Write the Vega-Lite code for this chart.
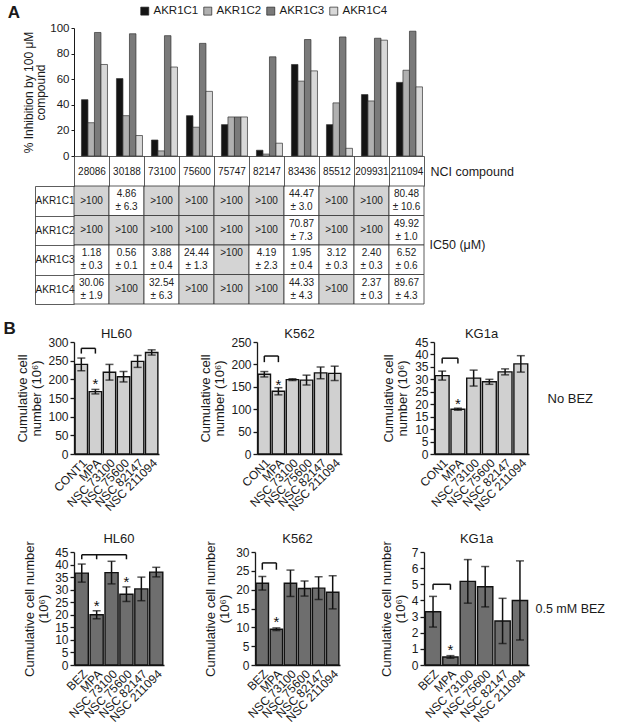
{
  "$schema": "https://vega.github.io/schema/vega-lite/v6.json",
  "background": "white",
  "padding": {"left": 3, "top": 4, "right": 2, "bottom": 2},
  "config": {
    "font": "Liberation Sans",
    "view": {"stroke": null},
    "axis": {"labelFont": "Liberation Sans", "titleFont": "Liberation Sans", "labelColor": "#1a1a1a", "titleColor": "#1a1a1a", "domainColor": "#1a1a1a", "tickColor": "#1a1a1a", "titleFontWeight": "normal", "grid": false},
    "title": {"font": "Liberation Sans", "color": "#1a1a1a", "fontWeight": "normal"},
    "legend": {"labelFont": "Liberation Sans"}
  },
  "datasets": {
    "inh": [
      {"compound": "28086", "enzyme": "AKR1C1", "value": 44}, {"compound": "28086", "enzyme": "AKR1C2", "value": 26}, {"compound": "28086", "enzyme": "AKR1C3", "value": 96.5}, {"compound": "28086", "enzyme": "AKR1C4", "value": 71.5},
      {"compound": "30188", "enzyme": "AKR1C1", "value": 60.5}, {"compound": "30188", "enzyme": "AKR1C2", "value": 31.5}, {"compound": "30188", "enzyme": "AKR1C3", "value": 95.5}, {"compound": "30188", "enzyme": "AKR1C4", "value": 16},
      {"compound": "73100", "enzyme": "AKR1C1", "value": 12.5}, {"compound": "73100", "enzyme": "AKR1C2", "value": 4}, {"compound": "73100", "enzyme": "AKR1C3", "value": 94}, {"compound": "73100", "enzyme": "AKR1C4", "value": 69.5},
      {"compound": "75600", "enzyme": "AKR1C1", "value": 31.5}, {"compound": "75600", "enzyme": "AKR1C2", "value": 22.5}, {"compound": "75600", "enzyme": "AKR1C3", "value": 88}, {"compound": "75600", "enzyme": "AKR1C4", "value": 50.5},
      {"compound": "75747", "enzyme": "AKR1C1", "value": 24.5}, {"compound": "75747", "enzyme": "AKR1C2", "value": 30.5}, {"compound": "75747", "enzyme": "AKR1C3", "value": 30.5}, {"compound": "75747", "enzyme": "AKR1C4", "value": 30.5},
      {"compound": "82147", "enzyme": "AKR1C1", "value": 4.5}, {"compound": "82147", "enzyme": "AKR1C2", "value": 1.5}, {"compound": "82147", "enzyme": "AKR1C3", "value": 77.5}, {"compound": "82147", "enzyme": "AKR1C4", "value": 10},
      {"compound": "83436", "enzyme": "AKR1C1", "value": 71.5}, {"compound": "83436", "enzyme": "AKR1C2", "value": 58.5}, {"compound": "83436", "enzyme": "AKR1C3", "value": 91}, {"compound": "83436", "enzyme": "AKR1C4", "value": 66.5},
      {"compound": "85512", "enzyme": "AKR1C1", "value": 24.5}, {"compound": "85512", "enzyme": "AKR1C2", "value": 41.5}, {"compound": "85512", "enzyme": "AKR1C3", "value": 93}, {"compound": "85512", "enzyme": "AKR1C4", "value": 6},
      {"compound": "209931", "enzyme": "AKR1C1", "value": 48}, {"compound": "209931", "enzyme": "AKR1C2", "value": 43}, {"compound": "209931", "enzyme": "AKR1C3", "value": 92}, {"compound": "209931", "enzyme": "AKR1C4", "value": 90.5},
      {"compound": "211094", "enzyme": "AKR1C1", "value": 57.5}, {"compound": "211094", "enzyme": "AKR1C2", "value": 67}, {"compound": "211094", "enzyme": "AKR1C3", "value": 97.5}, {"compound": "211094", "enzyme": "AKR1C4", "value": 54}
    ],
    "tbl": [
      {"col": "28086", "row": "AKR1C1", "a": ">100", "l1": "", "l2": "", "shade": "y"}, {"col": "30188", "row": "AKR1C1", "a": "", "l1": "4.86", "l2": "± 6.3", "shade": "n"}, {"col": "73100", "row": "AKR1C1", "a": ">100", "l1": "", "l2": "", "shade": "y"}, {"col": "75600", "row": "AKR1C1", "a": ">100", "l1": "", "l2": "", "shade": "y"}, {"col": "75747", "row": "AKR1C1", "a": ">100", "l1": "", "l2": "", "shade": "y"},
      {"col": "82147", "row": "AKR1C1", "a": ">100", "l1": "", "l2": "", "shade": "y"}, {"col": "83436", "row": "AKR1C1", "a": "", "l1": "44.47", "l2": "± 3.0", "shade": "n"}, {"col": "85512", "row": "AKR1C1", "a": ">100", "l1": "", "l2": "", "shade": "y"}, {"col": "209931", "row": "AKR1C1", "a": ">100", "l1": "", "l2": "", "shade": "y"}, {"col": "211094", "row": "AKR1C1", "a": "", "l1": "80.48", "l2": "± 10.6", "shade": "n"},
      {"col": "28086", "row": "AKR1C2", "a": ">100", "l1": "", "l2": "", "shade": "y"}, {"col": "30188", "row": "AKR1C2", "a": ">100", "l1": "", "l2": "", "shade": "y"}, {"col": "73100", "row": "AKR1C2", "a": ">100", "l1": "", "l2": "", "shade": "y"}, {"col": "75600", "row": "AKR1C2", "a": ">100", "l1": "", "l2": "", "shade": "y"}, {"col": "75747", "row": "AKR1C2", "a": ">100", "l1": "", "l2": "", "shade": "y"},
      {"col": "82147", "row": "AKR1C2", "a": ">100", "l1": "", "l2": "", "shade": "y"}, {"col": "83436", "row": "AKR1C2", "a": "", "l1": "70.87", "l2": "± 7.3", "shade": "n"}, {"col": "85512", "row": "AKR1C2", "a": ">100", "l1": "", "l2": "", "shade": "y"}, {"col": "209931", "row": "AKR1C2", "a": ">100", "l1": "", "l2": "", "shade": "y"}, {"col": "211094", "row": "AKR1C2", "a": "", "l1": "49.92", "l2": "± 1.0", "shade": "n"},
      {"col": "28086", "row": "AKR1C3", "a": "", "l1": "1.18", "l2": "± 0.3", "shade": "n"}, {"col": "30188", "row": "AKR1C3", "a": "", "l1": "0.56", "l2": "± 0.1", "shade": "n"}, {"col": "73100", "row": "AKR1C3", "a": "", "l1": "3.88", "l2": "± 0.4", "shade": "n"}, {"col": "75600", "row": "AKR1C3", "a": "", "l1": "24.44", "l2": "± 1.3", "shade": "n"}, {"col": "75747", "row": "AKR1C3", "a": "", "l1": ">100", "l2": "", "shade": "y"},
      {"col": "82147", "row": "AKR1C3", "a": "", "l1": "4.19", "l2": "± 2.3", "shade": "n"}, {"col": "83436", "row": "AKR1C3", "a": "", "l1": "1.95", "l2": "± 0.4", "shade": "n"}, {"col": "85512", "row": "AKR1C3", "a": "", "l1": "3.12", "l2": "± 0.3", "shade": "n"}, {"col": "209931", "row": "AKR1C3", "a": "", "l1": "2.40", "l2": "± 0.3", "shade": "n"}, {"col": "211094", "row": "AKR1C3", "a": "", "l1": "6.52", "l2": "± 0.6", "shade": "n"},
      {"col": "28086", "row": "AKR1C4", "a": "", "l1": "30.06", "l2": "± 1.9", "shade": "n"}, {"col": "30188", "row": "AKR1C4", "a": ">100", "l1": "", "l2": "", "shade": "y"}, {"col": "73100", "row": "AKR1C4", "a": "", "l1": "32.54", "l2": "± 6.3", "shade": "n"}, {"col": "75600", "row": "AKR1C4", "a": ">100", "l1": "", "l2": "", "shade": "y"}, {"col": "75747", "row": "AKR1C4", "a": ">100", "l1": "", "l2": "", "shade": "y"},
      {"col": "82147", "row": "AKR1C4", "a": ">100", "l1": "", "l2": "", "shade": "y"}, {"col": "83436", "row": "AKR1C4", "a": "", "l1": "44.33", "l2": "± 4.3", "shade": "n"}, {"col": "85512", "row": "AKR1C4", "a": ">100", "l1": "", "l2": "", "shade": "y"}, {"col": "209931", "row": "AKR1C4", "a": "", "l1": "2.37", "l2": "± 0.3", "shade": "n"}, {"col": "211094", "row": "AKR1C4", "a": "", "l1": "89.67", "l2": "± 4.3", "shade": "n"}
    ],
    "b": [
      {"panel": "HL60a", "trt": "CONT1", "v": 240, "e": 17}, {"panel": "HL60a", "trt": "MPA", "v": 167, "e": 6}, {"panel": "HL60a", "trt": "NSC 73100", "v": 219, "e": 21}, {"panel": "HL60a", "trt": "NSC 75600", "v": 207, "e": 14}, {"panel": "HL60a", "trt": "NSC 82147", "v": 248, "e": 16}, {"panel": "HL60a", "trt": "NSC 211094", "v": 272, "e": 7},
      {"panel": "K562a", "trt": "CON1", "v": 178, "e": 6}, {"panel": "K562a", "trt": "MPA", "v": 140, "e": 8}, {"panel": "K562a", "trt": "NSC 73100", "v": 166, "e": 2}, {"panel": "K562a", "trt": "NSC 75600", "v": 165, "e": 11}, {"panel": "K562a", "trt": "NSC 82147", "v": 181, "e": 13}, {"panel": "K562a", "trt": "NSC 211094", "v": 180, "e": 16},
      {"panel": "KG1aa", "trt": "CON1", "v": 31.5, "e": 1.8}, {"panel": "KG1aa", "trt": "MPA", "v": 18, "e": 0.4}, {"panel": "KG1aa", "trt": "NSC 73100", "v": 30.5, "e": 3.2}, {"panel": "KG1aa", "trt": "NSC 75600", "v": 29, "e": 1}, {"panel": "KG1aa", "trt": "NSC 82147", "v": 33, "e": 1.2}, {"panel": "KG1aa", "trt": "NSC 211094", "v": 36.2, "e": 3.3},
      {"panel": "HL60b", "trt": "BEZ", "v": 36.6, "e": 3.6}, {"panel": "HL60b", "trt": "MPA", "v": 20, "e": 1.6}, {"panel": "HL60b", "trt": "NSC 73100", "v": 36.8, "e": 4.5}, {"panel": "HL60b", "trt": "NSC 75600", "v": 28.2, "e": 2.9}, {"panel": "HL60b", "trt": "NSC 82147", "v": 30.3, "e": 4.7}, {"panel": "HL60b", "trt": "NSC 211094", "v": 37, "e": 1.9},
      {"panel": "K562b", "trt": "BEZ", "v": 21.7, "e": 1.8}, {"panel": "K562b", "trt": "MPA", "v": 9.5, "e": 0.35}, {"panel": "K562b", "trt": "NSC 73100", "v": 21.7, "e": 3.5}, {"panel": "K562b", "trt": "NSC 75600", "v": 20.3, "e": 2}, {"panel": "K562b", "trt": "NSC 82147", "v": 20.4, "e": 3}, {"panel": "K562b", "trt": "NSC 211094", "v": 19.3, "e": 4.4},
      {"panel": "KG1ab", "trt": "BEZ", "v": 3.3, "e": 0.95}, {"panel": "KG1ab", "trt": "MPA", "v": 0.5, "e": 0.08}, {"panel": "KG1ab", "trt": "NSC 73100", "v": 5.18, "e": 1.35}, {"panel": "KG1ab", "trt": "NSC 75600", "v": 4.85, "e": 1.25}, {"panel": "KG1ab", "trt": "NSC 82147", "v": 2.73, "e": 1.4}, {"panel": "KG1ab", "trt": "NSC 211094", "v": 4.0, "e": 2.45}
    ],
    "stars": [
      {"panel": "HL60a", "trt": "MPA", "y": 197}, {"panel": "K562a", "trt": "MPA", "y": 163}, {"panel": "KG1aa", "trt": "MPA", "y": 21.8},
      {"panel": "HL60b", "trt": "MPA", "y": 25.1}, {"panel": "HL60b", "trt": "NSC 75600", "y": 34.8}, {"panel": "K562b", "trt": "MPA", "y": 12.6}, {"panel": "KG1ab", "trt": "MPA", "y": 1.18}
    ],
    "bh": [
      {"panel": "HL60a", "a": "CONT1", "b": "MPA", "y": 283}, {"panel": "K562a", "a": "CON1", "b": "MPA", "y": 218.7}, {"panel": "KG1aa", "a": "CON1", "b": "MPA", "y": 38.5},
      {"panel": "HL60b", "a": "BEZ", "b": "NSC 75600", "y": 43.9}, {"panel": "K562b", "a": "BEZ", "b": "MPA", "y": 27.1}, {"panel": "KG1ab", "a": "BEZ", "b": "MPA", "y": 5.0}
    ],
    "bv": [
      {"panel": "HL60a", "x": "CONT1", "y": 283, "y2": 269}, {"panel": "HL60a", "x": "MPA", "y": 283, "y2": 269},
      {"panel": "K562a", "x": "CON1", "y": 218.7, "y2": 205}, {"panel": "K562a", "x": "MPA", "y": 218.7, "y2": 205},
      {"panel": "KG1aa", "x": "CON1", "y": 38.5, "y2": 36.4}, {"panel": "KG1aa", "x": "MPA", "y": 38.5, "y2": 36.4},
      {"panel": "HL60b", "x": "BEZ", "y": 43.9, "y2": 42.1}, {"panel": "HL60b", "x": "MPA", "y": 43.9, "y2": 42.1}, {"panel": "HL60b", "x": "NSC 75600", "y": 43.9, "y2": 42.1},
      {"panel": "K562b", "x": "BEZ", "y": 27.1, "y2": 25.3}, {"panel": "K562b", "x": "MPA", "y": 27.1, "y2": 25.3},
      {"panel": "KG1ab", "x": "BEZ", "y": 5.0, "y2": 4.66}, {"panel": "KG1ab", "x": "MPA", "y": 5.0, "y2": 4.66}
    ]
  },
  "columns": 1,
  "align": "none",
  "spacing": 15,
  "concat": [
    {
      "spacing": 30,
      "bounds": "flush",
      "vconcat": [
        {
          "width": 350, "height": 128,
          "title": {"text": "A", "orient": "left", "angle": 0, "anchor": "end", "fontSize": 17, "fontWeight": "bold", "offset": -10, "dy": -17},
          "data": {"name": "inh"},
          "mark": {"type": "bar", "stroke": "#333", "strokeWidth": 0.7},
          "encoding": {
            "x": {"field": "compound", "type": "nominal", "scale": {"domain": ["28086", "30188", "73100", "75600", "75747", "82147", "83436", "85512", "209931", "211094"], "paddingInner": 0, "paddingOuter": 0}, "axis": {"orient": "bottom", "labels": false, "ticks": false, "domain": true, "domainColor": "#333", "domainWidth": 0.8, "title": "NCI compound", "titleX": 356, "titleAlign": "left", "titleBaseline": "middle", "titlePadding": 15, "titleFontSize": 12.5}},
            "xOffset": {"field": "enzyme", "type": "nominal", "scale": {"domain": ["AKR1C1", "AKR1C2", "AKR1C3", "AKR1C4"], "paddingInner": 0, "paddingOuter": 0.69, "align": 0.83}},
            "y": {"field": "value", "type": "quantitative", "scale": {"domain": [0, 100], "nice": false}, "axis": {"values": [0, 20, 40, 60, 80, 100], "title": ["% Inhibition by 100 μM", "compound"], "titleFontSize": 12, "labelFontSize": 11.5, "tickSize": 3, "titlePadding": 2, "labelPadding": 2, "titleLineHeight": 12.5}},
            "color": {"field": "enzyme", "type": "nominal", "scale": {"domain": ["AKR1C1", "AKR1C2", "AKR1C3", "AKR1C4"], "range": ["#141414", "#b0b0b0", "#7a7a7a", "#d8d8d8"]}, "legend": {"orient": "none", "legendX": 65, "legendY": -23, "direction": "horizontal", "title": null, "symbolType": "square", "symbolSize": 64, "symbolStrokeColor": "#222", "symbolStrokeWidth": 0.7, "labelFontSize": 11.5, "columnPadding": 3, "labelOffset": 3, "labelColor": "#1a1a1a"}}
          }
        },
        {
          "width": 350, "height": 118,
          "data": {"name": "tbl"},
          "resolve": {"axis": {"x": "independent", "y": "independent"}},
          "layer": [
            {"mark": {"type": "rect", "stroke": "#333", "strokeWidth": 0.8},
             "encoding": {
               "x": {"field": "col", "type": "nominal", "scale": {"domain": ["28086", "30188", "73100", "75600", "75747", "82147", "83436", "85512", "209931", "211094"], "paddingInner": 0, "paddingOuter": 0}, "axis": {"orient": "top", "title": null, "domain": false, "tickBand": "extent", "tickSize": 30, "tickColor": "#333", "tickWidth": 0.8, "labelPadding": -15, "labelBaseline": "middle", "labelAlign": "center", "labelAngle": 0, "labelFontSize": 10, "labelOverlap": false, "labelBound": false, "labelFlush": false}},
               "y": {"field": "row", "type": "nominal", "scale": {"domain": ["AKR1C1", "AKR1C2", "AKR1C3", "AKR1C4"], "paddingInner": 0, "paddingOuter": 0}, "axis": {"orient": "left", "title": null, "domain": false, "tickBand": "extent", "tickSize": 39, "tickColor": "#333", "tickWidth": 0.8, "labelPadding": -19.5, "labelAlign": "center", "labelBaseline": "middle", "labelFontSize": 10, "labelOverlap": false, "labelBound": false}},
               "fill": {"field": "shade", "type": "nominal", "scale": {"domain": ["y", "n"], "range": ["#d4d4d4", "#ffffff"]}, "legend": null}}},
            {"mark": {"type": "text", "fontSize": 10, "color": "#222"},
             "encoding": {
               "x": {"field": "col", "type": "nominal", "axis": null},
               "y": {"field": "row", "type": "nominal", "axis": {"orient": "left", "title": null, "labels": false, "ticks": false, "domain": true, "domainColor": "#333", "domainWidth": 0.8, "offset": 39}},
               "text": {"field": "a"}}},
            {"mark": {"type": "text", "fontSize": 10, "color": "#222", "dy": -6.5},
             "encoding": {
               "x": {"field": "col", "type": "nominal", "axis": null},
               "y": {"field": "row", "type": "nominal", "axis": {"orient": "right", "title": null, "domain": false, "ticks": false, "labelAlign": "left", "labelPadding": 5, "labelFontSize": 12.5, "labelExpr": "datum.value == 'AKR1C3' ? 'IC50 (μM)' : ''", "labelOffset": {"condition": {"test": "datum.value == 'AKR1C3'", "value": -15}, "value": 0}}},
               "text": {"field": "l1"}}},
            {"mark": {"type": "text", "fontSize": 10, "color": "#222", "dy": 6.5},
             "encoding": {
               "x": {"field": "col", "type": "nominal", "axis": null},
               "y": {"field": "row", "type": "nominal", "axis": null},
               "text": {"field": "l2"}}}
          ]
        }
      ]
    },
    {
      "title": {"text": "B", "orient": "left", "angle": 0, "anchor": "end", "fontSize": 17, "fontWeight": "bold", "offset": -11, "dy": -7},
      "spacing": 19,
      "vconcat": [
        {
          "spacing": 40,
          "hconcat": [
            {
              "width": 85, "height": 112,
              "title": {"text": "HL60", "fontSize": 13, "offset": -5},
              "resolve": {"axis": {"y": "independent"}},
              "layer": [
                {"data": {"name": "b"}, "transform": [{"filter": "datum.panel == 'HL60a'"}], "mark": {"type": "bar", "fill": "#d0d0d0", "stroke": "#111", "strokeWidth": 1.4},
                 "encoding": {"x": {"field": "trt", "type": "nominal", "title": null, "scale": {"domain": ["CONT1", "MPA", "NSC 73100", "NSC 75600", "NSC 82147", "NSC 211094"], "paddingInner": 0.12, "paddingOuter": 0.08}, "axis": {"labelAngle": -45, "labelFontSize": 12, "ticks": false, "domainWidth": 1.3, "labelPadding": 3}},
                  "y": {"field": "v", "type": "quantitative", "scale": {"domain": [0, 300], "nice": false}, "axis": {"values": [0, 50, 100, 150, 200, 250, 300], "title": ["Cumulative cell", "number (10⁶)"], "titleFontSize": 13, "titleLineHeight": 14, "labelFontSize": 12, "tickSize": 4, "domainWidth": 1.3, "tickWidth": 1.3, "titlePadding": 4, "labelPadding": 2}}}},
                {"data": {"name": "b"}, "transform": [{"filter": "datum.panel == 'HL60a'"}], "mark": {"type": "errorbar", "ticks": true, "size": 8, "thickness": 1.5, "color": "#111"},
                 "encoding": {"x": {"field": "trt", "type": "nominal", "title": null}, "y": {"field": "v", "type": "quantitative", "axis": null}, "yError": {"field": "e"}}},
                {"data": {"name": "stars"}, "transform": [{"filter": "datum.panel == 'HL60a'"}], "mark": {"type": "text", "text": "*", "fontSize": 15, "color": "#111", "baseline": "middle", "dy": 4},
                 "encoding": {"x": {"field": "trt", "type": "nominal", "title": null}, "y": {"field": "y", "type": "quantitative", "axis": null}}},
                {"data": {"name": "bh"}, "transform": [{"filter": "datum.panel == 'HL60a'"}], "mark": {"type": "rule", "strokeWidth": 1.5, "color": "#111"},
                 "encoding": {"x": {"field": "a", "type": "nominal", "title": null}, "x2": {"field": "b"}, "y": {"field": "y", "type": "quantitative", "axis": null}}},
                {"data": {"name": "bv"}, "transform": [{"filter": "datum.panel == 'HL60a'"}], "mark": {"type": "rule", "strokeWidth": 1.5, "color": "#111"},
                 "encoding": {"x": {"field": "x", "type": "nominal", "title": null}, "y": {"field": "y", "type": "quantitative", "axis": null}, "y2": {"field": "y2"}}}
              ]
            },
            {
              "width": 85, "height": 112,
              "title": {"text": "K562", "fontSize": 13, "offset": -5},
              "resolve": {"axis": {"y": "independent"}},
              "layer": [
                {"data": {"name": "b"}, "transform": [{"filter": "datum.panel == 'K562a'"}], "mark": {"type": "bar", "fill": "#d0d0d0", "stroke": "#111", "strokeWidth": 1.4},
                 "encoding": {"x": {"field": "trt", "type": "nominal", "title": null, "scale": {"domain": ["CON1", "MPA", "NSC 73100", "NSC 75600", "NSC 82147", "NSC 211094"], "paddingInner": 0.12, "paddingOuter": 0.08}, "axis": {"labelAngle": -45, "labelFontSize": 12, "ticks": false, "domainWidth": 1.3, "labelPadding": 3}},
                  "y": {"field": "v", "type": "quantitative", "scale": {"domain": [0, 250], "nice": false}, "axis": {"values": [0, 50, 100, 150, 200, 250], "title": ["Cumulative cell", "number (10⁶)"], "titleFontSize": 13, "titleLineHeight": 14, "labelFontSize": 12, "tickSize": 4, "domainWidth": 1.3, "tickWidth": 1.3, "titlePadding": 4, "labelPadding": 2}}}},
                {"data": {"name": "b"}, "transform": [{"filter": "datum.panel == 'K562a'"}], "mark": {"type": "errorbar", "ticks": true, "size": 8, "thickness": 1.5, "color": "#111"},
                 "encoding": {"x": {"field": "trt", "type": "nominal", "title": null}, "y": {"field": "v", "type": "quantitative", "axis": null}, "yError": {"field": "e"}}},
                {"data": {"name": "stars"}, "transform": [{"filter": "datum.panel == 'K562a'"}], "mark": {"type": "text", "text": "*", "fontSize": 15, "color": "#111", "baseline": "middle", "dy": 4},
                 "encoding": {"x": {"field": "trt", "type": "nominal", "title": null}, "y": {"field": "y", "type": "quantitative", "axis": null}}},
                {"data": {"name": "bh"}, "transform": [{"filter": "datum.panel == 'K562a'"}], "mark": {"type": "rule", "strokeWidth": 1.5, "color": "#111"},
                 "encoding": {"x": {"field": "a", "type": "nominal", "title": null}, "x2": {"field": "b"}, "y": {"field": "y", "type": "quantitative", "axis": null}}},
                {"data": {"name": "bv"}, "transform": [{"filter": "datum.panel == 'K562a'"}], "mark": {"type": "rule", "strokeWidth": 1.5, "color": "#111"},
                 "encoding": {"x": {"field": "x", "type": "nominal", "title": null}, "y": {"field": "y", "type": "quantitative", "axis": null}, "y2": {"field": "y2"}}}
              ]
            },
            {
              "width": 95, "height": 112,
              "title": {"text": "KG1a", "fontSize": 13, "offset": -5},
              "resolve": {"axis": {"y": "independent"}},
              "layer": [
                {"data": {"name": "b"}, "transform": [{"filter": "datum.panel == 'KG1aa'"}], "mark": {"type": "bar", "fill": "#d0d0d0", "stroke": "#111", "strokeWidth": 1.4},
                 "encoding": {"x": {"field": "trt", "type": "nominal", "title": null, "scale": {"domain": ["CON1", "MPA", "NSC 73100", "NSC 75600", "NSC 82147", "NSC 211094"], "paddingInner": 0.12, "paddingOuter": 0.08}, "axis": {"labelAngle": -45, "labelFontSize": 12, "ticks": false, "domainWidth": 1.3, "labelPadding": 3}},
                  "y": {"field": "v", "type": "quantitative", "scale": {"domain": [0, 45], "nice": false}, "axis": {"orient": "left", "values": [0, 5, 10, 15, 20, 25, 30, 35, 40, 45], "title": ["Cumulative cell", "number (10⁶)"], "titleFontSize": 13, "titleLineHeight": 14, "labelFontSize": 12, "tickSize": 4, "domainWidth": 1.3, "tickWidth": 1.3, "titlePadding": 5, "labelPadding": 2}}}},
                {"data": {"name": "b"}, "transform": [{"filter": "datum.panel == 'KG1aa'"}], "mark": {"type": "errorbar", "ticks": true, "size": 8, "thickness": 1.5, "color": "#111"},
                 "encoding": {"x": {"field": "trt", "type": "nominal", "title": null}, "y": {"field": "v", "type": "quantitative", "axis": null}, "yError": {"field": "e"}}},
                {"data": {"name": "stars"}, "transform": [{"filter": "datum.panel == 'KG1aa'"}], "mark": {"type": "text", "text": "*", "fontSize": 15, "color": "#111", "baseline": "middle", "dy": 4},
                 "encoding": {"x": {"field": "trt", "type": "nominal", "title": null}, "y": {"field": "y", "type": "quantitative", "axis": {"orient": "right", "title": "No BEZ", "titleAngle": 0, "titleAlign": "left", "titleBaseline": "middle", "titleFontSize": 13, "titlePadding": 18, "labels": false, "ticks": false, "domain": false}}}},
                {"data": {"name": "bh"}, "transform": [{"filter": "datum.panel == 'KG1aa'"}], "mark": {"type": "rule", "strokeWidth": 1.5, "color": "#111"},
                 "encoding": {"x": {"field": "a", "type": "nominal", "title": null}, "x2": {"field": "b"}, "y": {"field": "y", "type": "quantitative", "axis": null}}},
                {"data": {"name": "bv"}, "transform": [{"filter": "datum.panel == 'KG1aa'"}], "mark": {"type": "rule", "strokeWidth": 1.5, "color": "#111"},
                 "encoding": {"x": {"field": "x", "type": "nominal", "title": null}, "y": {"field": "y", "type": "quantitative", "axis": null}, "y2": {"field": "y2"}}}
              ]
            }
          ]
        },
        {
          "spacing": 40,
          "hconcat": [
            {
              "width": 90, "height": 113,
              "title": {"text": "HL60", "fontSize": 13, "offset": -5},
              "resolve": {"axis": {"y": "independent"}},
              "layer": [
                {"data": {"name": "b"}, "transform": [{"filter": "datum.panel == 'HL60b'"}], "mark": {"type": "bar", "fill": "#6e6e6e", "stroke": "#111", "strokeWidth": 1.4},
                 "encoding": {"x": {"field": "trt", "type": "nominal", "title": null, "scale": {"domain": ["BEZ", "MPA", "NSC 73100", "NSC 75600", "NSC 82147", "NSC 211094"], "paddingInner": 0.12, "paddingOuter": 0.08}, "axis": {"labelAngle": -45, "labelFontSize": 12, "ticks": false, "domainWidth": 1.3, "labelPadding": 3}},
                  "y": {"field": "v", "type": "quantitative", "scale": {"domain": [0, 45], "nice": false}, "axis": {"values": [0, 5, 10, 15, 20, 25, 30, 35, 40, 45], "title": ["Cumulative cell number", "(10⁶)"], "titleFontSize": 13, "titleLineHeight": 14, "labelFontSize": 12, "tickSize": 4, "domainWidth": 1.3, "tickWidth": 1.3, "titlePadding": 4, "labelPadding": 2}}}},
                {"data": {"name": "b"}, "transform": [{"filter": "datum.panel == 'HL60b'"}], "mark": {"type": "errorbar", "ticks": true, "size": 8, "thickness": 1.5, "color": "#111"},
                 "encoding": {"x": {"field": "trt", "type": "nominal", "title": null}, "y": {"field": "v", "type": "quantitative", "axis": null}, "yError": {"field": "e"}}},
                {"data": {"name": "stars"}, "transform": [{"filter": "datum.panel == 'HL60b'"}], "mark": {"type": "text", "text": "*", "fontSize": 15, "color": "#111", "baseline": "middle", "dy": 4},
                 "encoding": {"x": {"field": "trt", "type": "nominal", "title": null}, "y": {"field": "y", "type": "quantitative", "axis": null}}},
                {"data": {"name": "bh"}, "transform": [{"filter": "datum.panel == 'HL60b'"}], "mark": {"type": "rule", "strokeWidth": 1.5, "color": "#111"},
                 "encoding": {"x": {"field": "a", "type": "nominal", "title": null}, "x2": {"field": "b"}, "y": {"field": "y", "type": "quantitative", "axis": null}}},
                {"data": {"name": "bv"}, "transform": [{"filter": "datum.panel == 'HL60b'"}], "mark": {"type": "rule", "strokeWidth": 1.5, "color": "#111"},
                 "encoding": {"x": {"field": "x", "type": "nominal", "title": null}, "y": {"field": "y", "type": "quantitative", "axis": null}, "y2": {"field": "y2"}}}
              ]
            },
            {
              "width": 85, "height": 113,
              "title": {"text": "K562", "fontSize": 13, "offset": -5},
              "resolve": {"axis": {"y": "independent"}},
              "layer": [
                {"data": {"name": "b"}, "transform": [{"filter": "datum.panel == 'K562b'"}], "mark": {"type": "bar", "fill": "#6e6e6e", "stroke": "#111", "strokeWidth": 1.4},
                 "encoding": {"x": {"field": "trt", "type": "nominal", "title": null, "scale": {"domain": ["BEZ", "MPA", "NSC 73100", "NSC 75600", "NSC 82147", "NSC 211094"], "paddingInner": 0.12, "paddingOuter": 0.08}, "axis": {"labelAngle": -45, "labelFontSize": 12, "ticks": false, "domainWidth": 1.3, "labelPadding": 3}},
                  "y": {"field": "v", "type": "quantitative", "scale": {"domain": [0, 30], "nice": false}, "axis": {"values": [0, 5, 10, 15, 20, 25, 30], "title": ["Cumulative cell number", "(10⁶)"], "titleFontSize": 13, "titleLineHeight": 14, "labelFontSize": 12, "tickSize": 4, "domainWidth": 1.3, "tickWidth": 1.3, "titlePadding": 4, "labelPadding": 2}}}},
                {"data": {"name": "b"}, "transform": [{"filter": "datum.panel == 'K562b'"}], "mark": {"type": "errorbar", "ticks": true, "size": 8, "thickness": 1.5, "color": "#111"},
                 "encoding": {"x": {"field": "trt", "type": "nominal", "title": null}, "y": {"field": "v", "type": "quantitative", "axis": null}, "yError": {"field": "e"}}},
                {"data": {"name": "stars"}, "transform": [{"filter": "datum.panel == 'K562b'"}], "mark": {"type": "text", "text": "*", "fontSize": 15, "color": "#111", "baseline": "middle", "dy": 4},
                 "encoding": {"x": {"field": "trt", "type": "nominal", "title": null}, "y": {"field": "y", "type": "quantitative", "axis": null}}},
                {"data": {"name": "bh"}, "transform": [{"filter": "datum.panel == 'K562b'"}], "mark": {"type": "rule", "strokeWidth": 1.5, "color": "#111"},
                 "encoding": {"x": {"field": "a", "type": "nominal", "title": null}, "x2": {"field": "b"}, "y": {"field": "y", "type": "quantitative", "axis": null}}},
                {"data": {"name": "bv"}, "transform": [{"filter": "datum.panel == 'K562b'"}], "mark": {"type": "rule", "strokeWidth": 1.5, "color": "#111"},
                 "encoding": {"x": {"field": "x", "type": "nominal", "title": null}, "y": {"field": "y", "type": "quantitative", "axis": null}, "y2": {"field": "y2"}}}
              ]
            },
            {
              "width": 105, "height": 113,
              "title": {"text": "KG1a", "fontSize": 13, "offset": -5},
              "resolve": {"axis": {"y": "independent"}},
              "layer": [
                {"data": {"name": "b"}, "transform": [{"filter": "datum.panel == 'KG1ab'"}], "mark": {"type": "bar", "fill": "#6e6e6e", "stroke": "#111", "strokeWidth": 1.4},
                 "encoding": {"x": {"field": "trt", "type": "nominal", "title": null, "scale": {"domain": ["BEZ", "MPA", "NSC 73100", "NSC 75600", "NSC 82147", "NSC 211094"], "paddingInner": 0.12, "paddingOuter": 0.08}, "axis": {"labelAngle": -45, "labelFontSize": 12, "ticks": false, "domainWidth": 1.3, "labelPadding": 3}},
                  "y": {"field": "v", "type": "quantitative", "scale": {"domain": [0, 7], "nice": false}, "axis": {"orient": "left", "values": [0, 1, 2, 3, 4, 5, 6, 7], "title": ["Cumulative cell number", "(10⁶)"], "titleFontSize": 13, "titleLineHeight": 14, "labelFontSize": 12, "tickSize": 4, "domainWidth": 1.3, "tickWidth": 1.3, "titlePadding": 4, "labelPadding": 2}}}},
                {"data": {"name": "b"}, "transform": [{"filter": "datum.panel == 'KG1ab'"}], "mark": {"type": "errorbar", "ticks": true, "size": 8, "thickness": 1.5, "color": "#111"},
                 "encoding": {"x": {"field": "trt", "type": "nominal", "title": null}, "y": {"field": "v", "type": "quantitative", "axis": null}, "yError": {"field": "e"}}},
                {"data": {"name": "stars"}, "transform": [{"filter": "datum.panel == 'KG1ab'"}], "mark": {"type": "text", "text": "*", "fontSize": 15, "color": "#111", "baseline": "middle", "dy": 4},
                 "encoding": {"x": {"field": "trt", "type": "nominal", "title": null}, "y": {"field": "y", "type": "quantitative", "axis": {"orient": "right", "title": "0.5 mM BEZ", "titleAngle": 0, "titleAlign": "left", "titleBaseline": "middle", "titleFontSize": 12.5, "titlePadding": 6, "labels": false, "ticks": false, "domain": false}}}},
                {"data": {"name": "bh"}, "transform": [{"filter": "datum.panel == 'KG1ab'"}], "mark": {"type": "rule", "strokeWidth": 1.5, "color": "#111"},
                 "encoding": {"x": {"field": "a", "type": "nominal", "title": null}, "x2": {"field": "b"}, "y": {"field": "y", "type": "quantitative", "axis": null}}},
                {"data": {"name": "bv"}, "transform": [{"filter": "datum.panel == 'KG1ab'"}], "mark": {"type": "rule", "strokeWidth": 1.5, "color": "#111"},
                 "encoding": {"x": {"field": "x", "type": "nominal", "title": null}, "y": {"field": "y", "type": "quantitative", "axis": null}, "y2": {"field": "y2"}}}
              ]
            }
          ]
        }
      ]
    }
  ]
}
